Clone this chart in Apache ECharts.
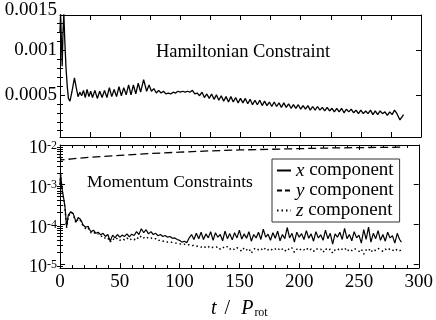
<!DOCTYPE html>
<html><head><meta charset="utf-8">
<script src="https://cdn.jsdelivr.net/npm/echarts@6/dist/echarts.min.js"></script>
<style>html,body{margin:0;padding:0;background:#fff}#c{width:436px;height:320px}</style>
</head><body><div id="c"></div>
<script>
// ---- Hamiltonian constraint (values in units of 1e-4) ----
const hamT = [0,0.5,1.2,1.8,2.5,3.2,4,5,6,7,
  8.3,10,12,13.5,15,16.5,18,19.5,21,22.5,
  24,25.5,27,29,31,33,35,37,39,41,
  43,45,47,49,51,53,55,57,59,61,
  63,65,67,69.5,72,74,76,78,
  80,82,84,86,88,90,92,94,96,98,
  100,102,104,106,108,110,112,114,116,118,
  120,122,124,126,128,130,132,134,136,138,
  140,142,144,146,148,150,152,154,156,158,
  160,162,164,166,168,170,172,174,176,178,
  180,182,184,186,188,190,192,194,196,198,
  200,202,204,206,208,210,212,214,216,218,
  220,222,224,226,228,230,232,234,236,238,
  240,242,244,246,248,250,252,254,256,258,
  260,262,264,266,268,270,272,274,276,278,
  280,282.5,285.5];
const hamV_e4 = [12.0,14.0,11.0,8.2,12.0,14.0,11.0,8.0,6.0,4.6,
  4.3,5.4,6.9,5.8,4.8,5.3,4.9,5.5,4.7,5.6,
  4.8,5.4,4.7,5.5,4.6,5.4,4.7,5.5,4.7,5.8,
  4.8,5.6,4.8,5.9,4.9,5.8,5.0,6.1,5.0,6.1,
  5.1,6.3,5.3,6.7,5.4,6.1,5.4,5.7,
  5.2,5.5,5.2,5.4,5.1,5.2,5.1,5.3,5.2,5.4,
  5.3,5.4,5.3,5.4,5.3,5.5,5.1,5.2,4.9,5.3,
  4.7,5.1,4.6,5.1,4.5,5.0,4.4,4.9,4.3,4.8,
  4.2,4.8,4.2,4.7,4.1,4.6,4.1,4.6,4.0,4.5,
  3.9,4.4,3.9,4.4,3.8,4.3,3.8,4.2,3.7,4.2,
  3.7,4.1,3.6,4.1,3.6,4.0,3.5,3.9,3.5,3.9,
  3.4,3.8,3.4,3.8,3.3,3.7,3.3,3.7,3.3,3.6,
  3.2,3.6,3.2,3.5,3.1,3.5,3.1,3.5,3.0,3.4,
  3.1,3.4,3.0,3.3,2.9,3.3,2.9,3.2,2.9,3.3,
  2.8,3.2,2.8,3.2,2.9,3.1,2.7,3.1,2.8,3.3,
  2.9,2.2,2.8];

// ---- Momentum constraints ----
const momT = [0,0.5,1.2,2,2.8,3.5,4.2,4.9,5.5,6.2,
  6.9,8,9,10,11,11.6,12.5,13.3,14.3,15.2,
  16,17,18,19.4,20.5,21.6,22.5,23.5,24.5,
  26,28,30,32,34,36,38,40,42,44,
  46,48,50,52,54,56,58,60,62,64,
  66,68,70,72,74,76,78,80,82,84,
  86,88,90,92,94,96,98,100,102,104,
  106,108,110,112,114,116,118,120,122,124,
  126,128,130,132,134,136,138,140,142,144,
  146,148,150,152,154,156,158,160,162,164,
  166,168,170,172,174,176,178,180,182,184,
  186,188,190,192,194,196,198,200,202,204,
  206,208,210,212,214,216,218,220,222,224,
  226,228,230,232,234,236,238,240,242,244,
  246,248,250,252,254,256,258,260,262,264,
  266,268,270,272,274,276,278,280,282,284,
  285.5];
// x component, units of 1e-5
const momX_e5 = [100,190,110,70,51,38,27,15,8.7,12,
  17,19,21,21,19,17,14,11.5,13,15,
  15,13.5,12,9.6,9,8.5,8.2,9,7.6,
  6.6,7.2,6.0,6.4,5.5,6.0,5.0,5.6,3.8,5.4,
  4.6,5.6,4.8,5.4,5.0,5.8,4.9,5.7,5.3,6.6,
  5.6,7.8,6.2,7.4,5.8,6.6,5.6,6.0,5.2,5.6,
  5.0,5.3,4.8,5.0,4.5,4.6,4.2,4.0,3.6,3.8,
  3.5,4.6,5.6,4.2,6.0,4.4,6.4,4.2,5.8,4.6,
  6.6,4.0,6.2,4.8,5.6,3.9,6.8,4.4,5.9,4.1,
  6.2,4.6,7.2,4.3,5.8,4.5,6.6,3.8,5.6,4.6,
  6.4,4.2,7.6,4.8,5.7,4.0,6.2,4.5,6.8,3.9,
  5.6,4.4,8.4,4.6,6.0,3.6,6.4,4.8,5.9,4.2,
  7.0,4.5,5.8,3.8,6.6,4.6,5.5,4.0,7.2,4.4,
  6.0,3.2,5.8,4.8,6.4,4.2,8.0,4.4,5.6,3.9,
  6.6,4.6,5.4,3.4,7.4,4.2,8.6,3.6,6.0,4.4,
  7.0,4.0,5.6,3.8,6.4,4.6,5.2,3.4,6.0,4.2,
  3.6];
// z component, units of 1e-5
const momZ_e5 = [100,180,105,66,48,35,25,14,8.2,11,
  16,18,20,20,18,16,13,11,12,14,
  14,12.5,11,9,8.4,7.9,7.6,8.4,7.1,
  6.2,6.6,5.6,5.8,5.0,5.2,4.4,4.6,3.6,4.4,
  4.0,4.6,4.0,4.4,4.1,4.6,4.0,4.4,4.1,4.8,
  4.3,5.2,4.6,5.0,4.4,4.6,4.2,4.4,3.9,4.1,
  3.8,3.9,3.6,3.7,3.5,3.5,3.3,3.3,3.1,3.2,
  3.0,3.1,2.9,3.0,2.8,2.9,2.7,2.9,2.6,2.8,
  2.5,2.7,2.6,2.8,2.4,2.7,2.5,2.8,2.4,2.6,
  2.3,2.6,2.4,2.1,2.6,2.3,2.5,1.9,2.4,2.6,
  2.3,2.5,2.2,2.6,2.3,2.5,2.2,2.4,2.6,2.2,
  2.4,2.1,2.5,2.3,2.6,2.0,2.4,2.2,2.5,2.3,
  2.6,2.2,2.4,2.1,2.5,2.3,2.4,2.0,2.5,2.2,
  2.4,1.9,2.3,2.5,2.2,2.4,2.6,2.1,2.4,2.2,
  2.5,2.3,2.1,2.4,1.8,2.3,2.5,2.0,2.4,2.2,
  2.5,2.3,2.1,2.4,2.2,2.5,2.3,2.1,2.4,2.2,
  2.3];
// y component, units of 1e-3
const momYT = [0,0.8,2,5,10,25,50,75,100,125,150,175,200,225,250,285.5];
const momY_e3 = [5.4,4.2,4.2,4.3,4.5,4.9,5.5,6.1,6.6,7.1,7.5,7.8,8.1,8.4,8.6,8.8];

const seriesNames = ['x component','y component','z component'];
const hamTicks = [0.0005, 0.001];
const hamMinor = [0.0001,0.0002,0.0003,0.0004,0.0006,0.0007,0.0008,0.0009,0.0011,0.0012,0.0013];
const logTicks = [1e-5,1e-4,1e-3,1e-2];
const logMinor = [9e-6,2e-5,3e-5,4e-5,5e-5,6e-5,7e-5,8e-5,9e-5,2e-4,3e-4,4e-4,5e-4,6e-4,7e-4,8e-4,9e-4,2e-3,3e-3,4e-3,5e-3,6e-3,7e-3,8e-3,9e-3];
const xLabels = [0,50,100,150,200,250,300];

const FONT = 'Liberation Serif';
const BLACK = '#000';
const DASH = [8, 4];
const DOT = [1.5, 3];

function zip(t, v, s) { return t.map((x, i) => [x, v[i] * s]); }

const line = { show: true, onZero: false, lineStyle: { color: BLACK, width: 1 } };
function xAx(grid, pos, opt) {
  return Object.assign({
    type: 'value', gridIndex: grid, position: pos, min: 0, max: 300,
    axisLine: line, splitLine: { show: false },
    axisTick: { show: true, inside: true, length: 5, lineStyle: { color: BLACK } },
    axisLabel: { show: false }
  }, opt);
}
function yAx(grid, pos, type, min, max, ticks, len, showLine, label) {
  return {
    type: type, gridIndex: grid, position: pos, min: min, max: max,
    axisLine: showLine ? line : { show: false },
    splitLine: { show: false }, minorTick: { show: false },
    axisTick: { show: true, inside: true, length: len, customValues: ticks, lineStyle: { color: BLACK } },
    axisLabel: label || { show: false }
  };
}

const chart = echarts.init(document.getElementById('c'), null, { renderer: 'canvas' });
chart.setOption({
  animation: false,
  backgroundColor: '#fff',
  grid: [
    { left: 60, right: 15, top: 15, height: 122 },
    { left: 60, right: 15, top: 145, height: 128 }
  ],
  xAxis: [
    xAx(0, 'bottom', { interval: 25 }),
    xAx(0, 'top', { interval: 25 }),
    xAx(1, 'bottom', {
      interval: 50,
      minorTick: { show: true, splitNumber: 5, length: 3, lineStyle: { color: BLACK } },
      axisLabel: { show: true, customValues: xLabels, color: BLACK, fontFamily: FONT, fontSize: 19, margin: 4 },
      name: '{i|t}{n|/}{i|P}{s|rot}', nameLocation: 'middle', nameGap: 21,
      nameTextStyle: {
        color: BLACK, fontFamily: FONT, fontSize: 20,
        rich: {
          i: { fontStyle: 'italic', fontFamily: FONT, fontSize: 20, lineHeight: 20, verticalAlign: 'top', color: BLACK },
          n: { fontFamily: FONT, fontSize: 20, lineHeight: 20, verticalAlign: 'top', padding: [0, 11, 0, 8], color: BLACK },
          s: { fontFamily: FONT, fontSize: 12, lineHeight: 12, padding: [15, 0, 0, 1], verticalAlign: 'bottom', color: BLACK }
        }
      }
    }),
    xAx(1, 'top', { interval: 50, minorTick: { show: true, splitNumber: 5, length: 3, lineStyle: { color: BLACK } } })
  ],
  yAxis: [
    yAx(0, 'left', 'value', 0.00003, 0.00139, hamTicks, 5, true, {
      show: true, customValues: hamTicks, color: BLACK, fontFamily: FONT, fontSize: 19, margin: 3,
      formatter: v => String(v)
    }),
    yAx(0, 'right', 'value', 0.00003, 0.00139, hamTicks, 5, true),
    yAx(0, 'left', 'value', 0.00003, 0.00139, hamMinor, 3, false),
    yAx(0, 'right', 'value', 0.00003, 0.00139, hamMinor, 3, false),
    yAx(1, 'left', 'log', 8e-6, 1e-2, logTicks, 5, true, {
      show: true, customValues: logTicks, color: BLACK, fontFamily: FONT, fontSize: 18, margin: 3,
      padding: [7, 0, 0, 0],
      formatter: v => '{b|10}{s|' + Math.round(Math.log10(v)) + '}',
      rich: {
        b: { fontFamily: FONT, fontSize: 18, lineHeight: 18, padding: [4, 0, 0, 0], verticalAlign: 'bottom', color: BLACK },
        s: { fontFamily: FONT, fontSize: 12, lineHeight: 12, verticalAlign: 'top', color: BLACK }
      }
    }),
    yAx(1, 'right', 'log', 8e-6, 1e-2, logTicks, 5, true),
    yAx(1, 'left', 'log', 8e-6, 1e-2, logMinor, 3, false),
    yAx(1, 'right', 'log', 8e-6, 1e-2, logMinor, 3, false)
  ],
  legend: {
    data: [
      { name: seriesNames[0] },
      { name: seriesNames[1], lineStyle: { type: [5, 3] } },
      { name: seriesNames[2], lineStyle: { type: [1.5, 3] } }
    ],
    orient: 'vertical', left: 272, top: 159,
    itemWidth: 14, itemHeight: 12, itemGap: 1,
    padding: [2, 6, 2, 4],
    itemStyle: { opacity: 0 },
    borderColor: '#333', borderWidth: 1, borderRadius: 0, backgroundColor: '#fff',
    formatter: n => '{i|' + n.charAt(0) + '} ' + n.slice(2),
    textStyle: {
      color: BLACK, fontFamily: FONT, fontSize: 19, lineHeight: 18,
      rich: { i: { fontStyle: 'italic', fontFamily: FONT, fontSize: 19, color: BLACK } }
    }
  },
  graphic: [
    { type: 'text', x: 243, y: 52, style: { text: 'Hamiltonian Constraint', fill: BLACK, font: '18.5px "Liberation Serif"', textAlign: 'center', textVerticalAlign: 'middle' } },
    { type: 'text', x: 170, y: 182, style: { text: 'Momentum Constraints', fill: BLACK, font: '17.5px "Liberation Serif"', textAlign: 'center', textVerticalAlign: 'middle' } },
    { type: 'text', x: 57, y: 10, style: { text: '0.0015', fill: BLACK, font: '19px "Liberation Serif"', textAlign: 'right', textVerticalAlign: 'middle' } }
  ],
  series: [
    { type: 'line', name: 'Hamiltonian', xAxisIndex: 0, yAxisIndex: 0, data: zip(hamT, hamV_e4, 1e-4),
      symbol: 'none', lineStyle: { color: BLACK, width: 1.3 } },
    { type: 'line', name: seriesNames[0], xAxisIndex: 2, yAxisIndex: 4, data: zip(momT, momX_e5, 1e-5),
      symbol: 'none', itemStyle: { color: BLACK }, lineStyle: { color: BLACK, width: 1.2 } },
    { type: 'line', name: seriesNames[1], xAxisIndex: 2, yAxisIndex: 4, data: zip(momYT, momY_e3, 1e-3),
      symbol: 'none', itemStyle: { color: BLACK }, lineStyle: { color: BLACK, width: 1.3, type: DASH } },
    { type: 'line', name: seriesNames[2], xAxisIndex: 2, yAxisIndex: 4, data: zip(momT, momZ_e5, 1e-5),
      symbol: 'none', itemStyle: { color: BLACK }, lineStyle: { color: BLACK, width: 1.5, type: DOT } }
  ]
});
</script></body></html>
